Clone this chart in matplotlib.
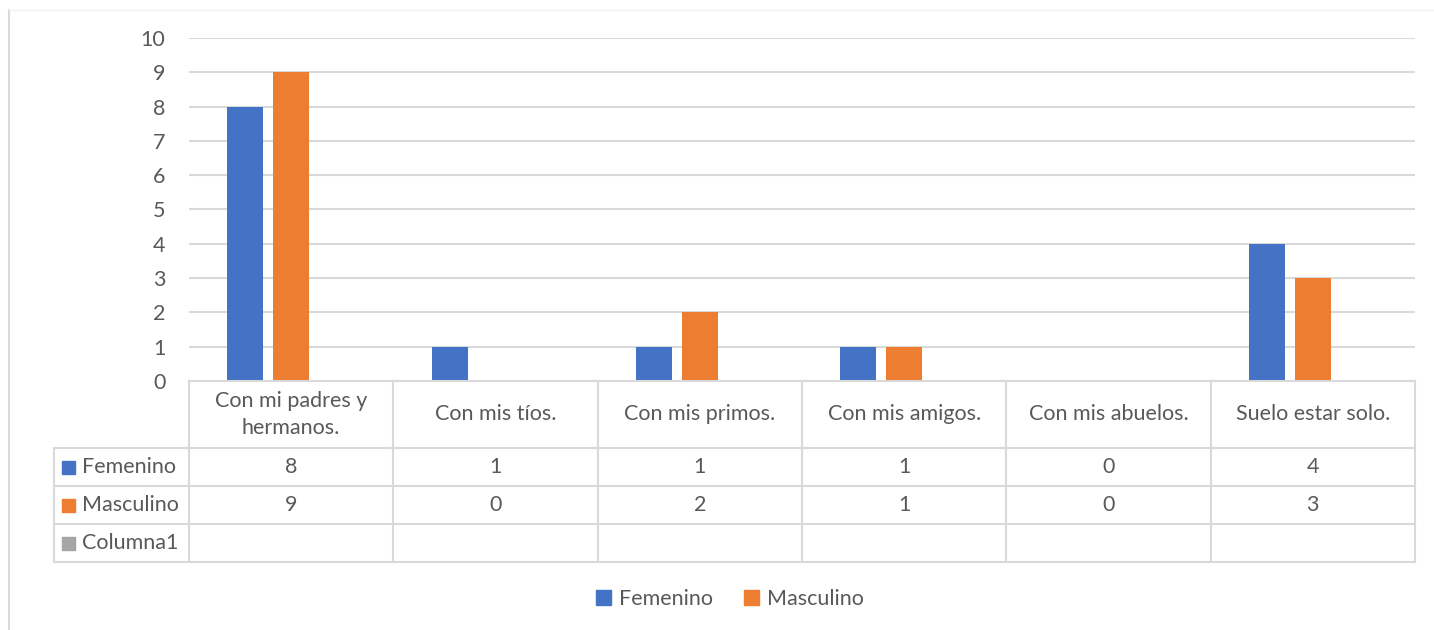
import matplotlib.pyplot as plt
from matplotlib.lines import Line2D
from matplotlib.patches import Rectangle

plt.rcParams['font.family'] = ['Lato', 'DejaVu Sans']

categories = ['Con mi padres y\nhermanos.', 'Con mis tíos.', 'Con mis primos.',
              'Con mis amigos.', 'Con mis abuelos.', 'Suelo estar solo.']
series_names = ['Femenino', 'Masculino', 'Columna1']
femenino = [8, 1, 1, 1, 0, 4]
masculino = [9, 0, 2, 1, 0, 3]
columna1 = [None, None, None, None, None, None]
y_ticks = [0, 1, 2, 3, 4, 5, 6, 7, 8, 9, 10]

colors = ['#4472C4', '#ED7D31', '#A5A5A5']
text_color = '#595959'
grid_color = '#D9D9D9'
fs = 15.5

W, H = 1434, 630
fig = plt.figure(figsize=(W / 100, H / 100), dpi=100)


def fx(px):
    return px / W


def fy(py):
    return 1 - py / H


# plot area
left, right, top, bottom = 189, 1415, 38, 381
ax = fig.add_axes([fx(left), fy(bottom), fx(right) - fx(left), fy(top) - fy(bottom)])
n = len(categories)
ax.set_xlim(-0.5, n - 0.5)
ax.set_ylim(0, 10)
for s in ax.spines.values():
    s.set_visible(False)
ax.set_yticks(y_ticks)
ax.set_yticklabels([str(t) for t in y_ticks], color=text_color, fontsize=fs)
ax.tick_params(axis='y', length=0, pad=17)
ax.set_xticks([])
ax.yaxis.grid(True, color=grid_color, linewidth=1.5)
ax.set_axisbelow(True)

bar_w = 0.176
offsets = [-0.225, 0, 0.225]
xs = list(range(n))
for vals, off, c, name in zip([femenino, masculino, columna1], offsets, colors, series_names):
    v = [0 if x is None else x for x in vals]
    ax.bar([x + off for x in xs], v, width=bar_w, color=c, label=name, zorder=3)

# data table below
tbl_left = 54
row_y = [381, 448, 486, 524, 562]
col_x = [left + (right - left) * i / n for i in range(n + 1)]
lc = '#D9D9D9'
lw = 1.5


def hline(x0, x1, y):
    fig.add_artist(Line2D([fx(x0), fx(x1)], [fy(y), fy(y)], color=lc, lw=lw))


def vline(x, y0, y1):
    fig.add_artist(Line2D([fx(x), fx(x)], [fy(y0), fy(y1)], color=lc, lw=lw))


hline(left, right, row_y[0])
for y in row_y[1:]:
    hline(tbl_left, right, y)
for x in col_x:
    vline(x, row_y[0], row_y[-1])
vline(tbl_left, row_y[1], row_y[-1])

for i, cat in enumerate(categories):
    cx = (col_x[i] + col_x[i + 1]) / 2
    fig.text(fx(cx), fy((row_y[0] + row_y[1]) / 2), cat, ha='center', va='center',
             color=text_color, fontsize=fs, linespacing=1.45)

for r, (name, vals, c) in enumerate(zip(series_names, [femenino, masculino, columna1], colors)):
    cy = (row_y[r + 1] + row_y[r + 2]) / 2
    fig.add_artist(Rectangle((fx(62), fy(cy + 6.5)), fx(13), 13 / H, color=c,
                             transform=fig.transFigure))
    fig.text(fx(82), fy(cy), name, ha='left', va='center', color=text_color, fontsize=fs)
    for i, v in enumerate(vals):
        if v is None:
            continue
        cx = (col_x[i] + col_x[i + 1]) / 2
        fig.text(fx(cx), fy(cy), str(v), ha='center', va='center', color=text_color, fontsize=fs)

# legend
handles = [Rectangle((0, 0), 1, 1, color=colors[0]), Rectangle((0, 0), 1, 1, color=colors[1])]
leg = fig.legend(handles, series_names[:2], loc='center', bbox_to_anchor=(fx(730), fy(599)),
                 ncol=2, frameon=False, fontsize=fs, handlelength=0.7, handleheight=0.7,
                 handletextpad=0.4, columnspacing=1.4)
for t in leg.get_texts():
    t.set_color(text_color)

# chart area border
fig.add_artist(Line2D([fx(8.5), fx(8.5)], [fy(10), 0], color='#D9D9D9', lw=1.5))
fig.add_artist(Line2D([fx(8.5), 1], [fy(10), fy(10)], color='#F2F2F2', lw=1))

fig.savefig('out.png', dpi=100)
